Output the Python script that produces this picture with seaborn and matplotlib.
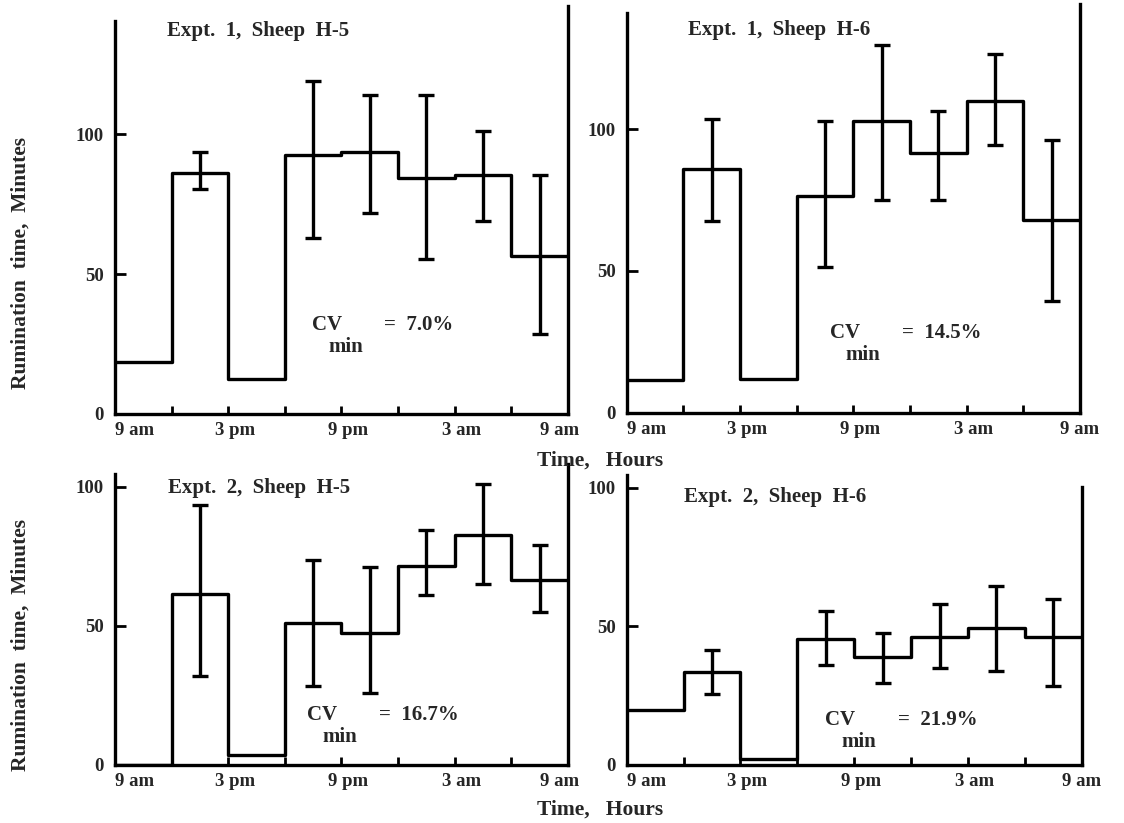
import numpy as np
import pandas as pd
import matplotlib
matplotlib.use("Agg")
import matplotlib.pyplot as plt
import matplotlib.transforms as mtransforms
import seaborn as sns

nan = np.nan

# 3-hour bins starting at 9 am
bin_edges = [0, 3, 6, 9, 12, 15, 18, 21, 24]
tick_pos = [0, 6, 12, 18, 24]
tick_labels = ["9 am", "3 pm", "9 pm", "3 am", "9 am"]

titles = ["Expt.  1,  Sheep  H-5", "Expt.  1,  Sheep  H-6",
          "Expt.  2,  Sheep  H-5", "Expt.  2,  Sheep  H-6"]
cv_labels = ["=  7.0%", "=  14.5%", "=  16.7%", "=  21.9%"]

# mean rumination time per bin (minutes)
e1_h5 = [18.5, 86, 12.5, 92.5, 93.5, 84.5, 85.5, 56.5]
e1_h6 = [11.5, 86, 12, 76.5, 103, 91.5, 110, 68]
e2_h5 = [0, 61.5, 3.5, 51, 47.5, 71.5, 82.5, 66.5]
e2_h6 = [20, 33.5, 2, 45.5, 39, 46, 49.5, 46]

# error bar ends (low / high), nan where no bar drawn
e1_h5_lo = [nan, 80.5, nan, 63, 72, 55.5, 69, 28.5]
e1_h5_hi = [nan, 93.5, nan, 119, 114, 114, 101, 85.5]
e1_h6_lo = [nan, 67.5, nan, 51.5, 75, 75, 94.5, 39.5]
e1_h6_hi = [nan, 103.5, nan, 103, 129.5, 106.5, 126.5, 96]
e2_h5_lo = [nan, 32, nan, 28.5, 26, 61, 65, 55]
e2_h5_hi = [nan, 93.5, nan, 73.5, 71, 84.5, 101, 79]
e2_h6_lo = [nan, 25.5, nan, 36, 29.5, 35, 34, 28.5]
e2_h6_hi = [nan, 41.5, nan, 55.5, 47.5, 58, 64.5, 60]

# text positions (hours, minutes)
title_pos = [(2.74, 137), (3.24, 135), (2.81, 99.5), (3.04, 96.8)]
cv_pos = [(10.44, 31.8), (10.75, 28), (10.17, 18), (10.48, 16.2)]

sns.set_style("ticks")
plt.rcParams["font.family"] = ["Liberation Serif", "DejaVu Serif"]
plt.rcParams["font.weight"] = "bold"

fig = plt.figure(figsize=(11.24, 8.23), dpi=100)
ax_boxes = [
    [0.1023, 0.4970, 0.4030, 0.4779],
    [0.5576, 0.4985, 0.4033, 0.4860],
    [0.1023, 0.0705, 0.4030, 0.3533],
    [0.5576, 0.0705, 0.4048, 0.3524],
]
ylims = [140.6, 141, 104.5, 104.6]
right_tops = [146, 144, 108, 100.4]

series = [(e1_h5, e1_h5_lo, e1_h5_hi), (e1_h6, e1_h6_lo, e1_h6_hi),
          (e2_h5, e2_h5_lo, e2_h5_hi), (e2_h6, e2_h6_lo, e2_h6_hi)]

LW = 2.4

for i, (vals, lo, hi) in enumerate(series):
    ax = fig.add_axes(ax_boxes[i])
    df = pd.DataFrame({"hour": bin_edges, "minutes": vals + [vals[-1]]})
    sns.lineplot(data=df, x="hour", y="minutes", ax=ax, color="black",
                 linewidth=LW, drawstyle="steps-post", estimator=None)

    centers = np.array(bin_edges[:-1]) + 1.5
    v = np.array(vals, dtype=float)
    lo = np.array(lo)
    hi = np.array(hi)
    mask = ~np.isnan(lo)
    ax.errorbar(centers[mask], v[mask],
                yerr=[v[mask] - lo[mask], hi[mask] - v[mask]],
                fmt="none", ecolor="black", elinewidth=LW,
                capsize=5.5, capthick=LW)

    ax.set_xlim(0, 24)
    ax.set_ylim(0, ylims[i])
    ax.set_xticks(tick_pos)
    ax.set_xticklabels(tick_labels)
    ax.set_xticks([3, 9, 15, 21], minor=True)
    ax.set_yticks([0, 50, 100])
    ax.tick_params(axis="both", which="both", direction="in", width=2,
                   labelsize=13.5, color="black")
    ax.tick_params(axis="x", which="both", length=6, pad=6)
    ax.tick_params(axis="y", length=8, pad=8)
    ax.tick_params(axis="y", which="minor", length=0)

    # nudge the hour labels like the original typesetting
    labels = ax.get_xticklabels()
    labels[0].set_ha("left")
    for lab in labels[1:4]:
        off = mtransforms.ScaledTranslation(7 / 100, 0, fig.dpi_scale_trans)
        lab.set_transform(lab.get_transform() + off)
    if i % 2 == 0:
        off = mtransforms.ScaledTranslation(-8 / 100, 0, fig.dpi_scale_trans)
        labels[4].set_transform(labels[4].get_transform() + off)

    sns.despine(ax=ax, top=True, right=False)
    for side in ["left", "bottom", "right"]:
        ax.spines[side].set_linewidth(LW)
        ax.spines[side].set_color("black")
    ax.spines["right"].set_bounds(0, right_tops[i])
    ax.set_xlabel("")
    ax.set_ylabel("")

    tx, ty = title_pos[i]
    ax.text(tx, ty, titles[i], ha="left", va="center",
            fontsize=15, fontweight="bold")

    x0, y0 = cv_pos[i]
    ax.annotate("CV", (x0, y0), fontsize=15, va="center", ha="left")
    ax.annotate("min", (x0, y0), xytext=(11.5, -15.6), textcoords="offset points",
                fontsize=15, va="center", ha="left")
    ax.annotate(cv_labels[i], (x0, y0), xytext=(52, 0), textcoords="offset points",
                fontsize=15, va="center", ha="left")

# shared axis labels
for yc in [263, 645]:
    fig.text(20.7 / 1124, 1 - yc / 823, "Rumination  time,  Minutes", rotation=90,
             ha="center", va="center", fontsize=15.5, fontweight="bold")
for yc in [461, 810]:
    fig.text(600 / 1124, 1 - yc / 823, "Time,   Hours", ha="center", va="center",
             fontsize=15.5, fontweight="bold")

fig.savefig("out.png", dpi=100, facecolor="white")
